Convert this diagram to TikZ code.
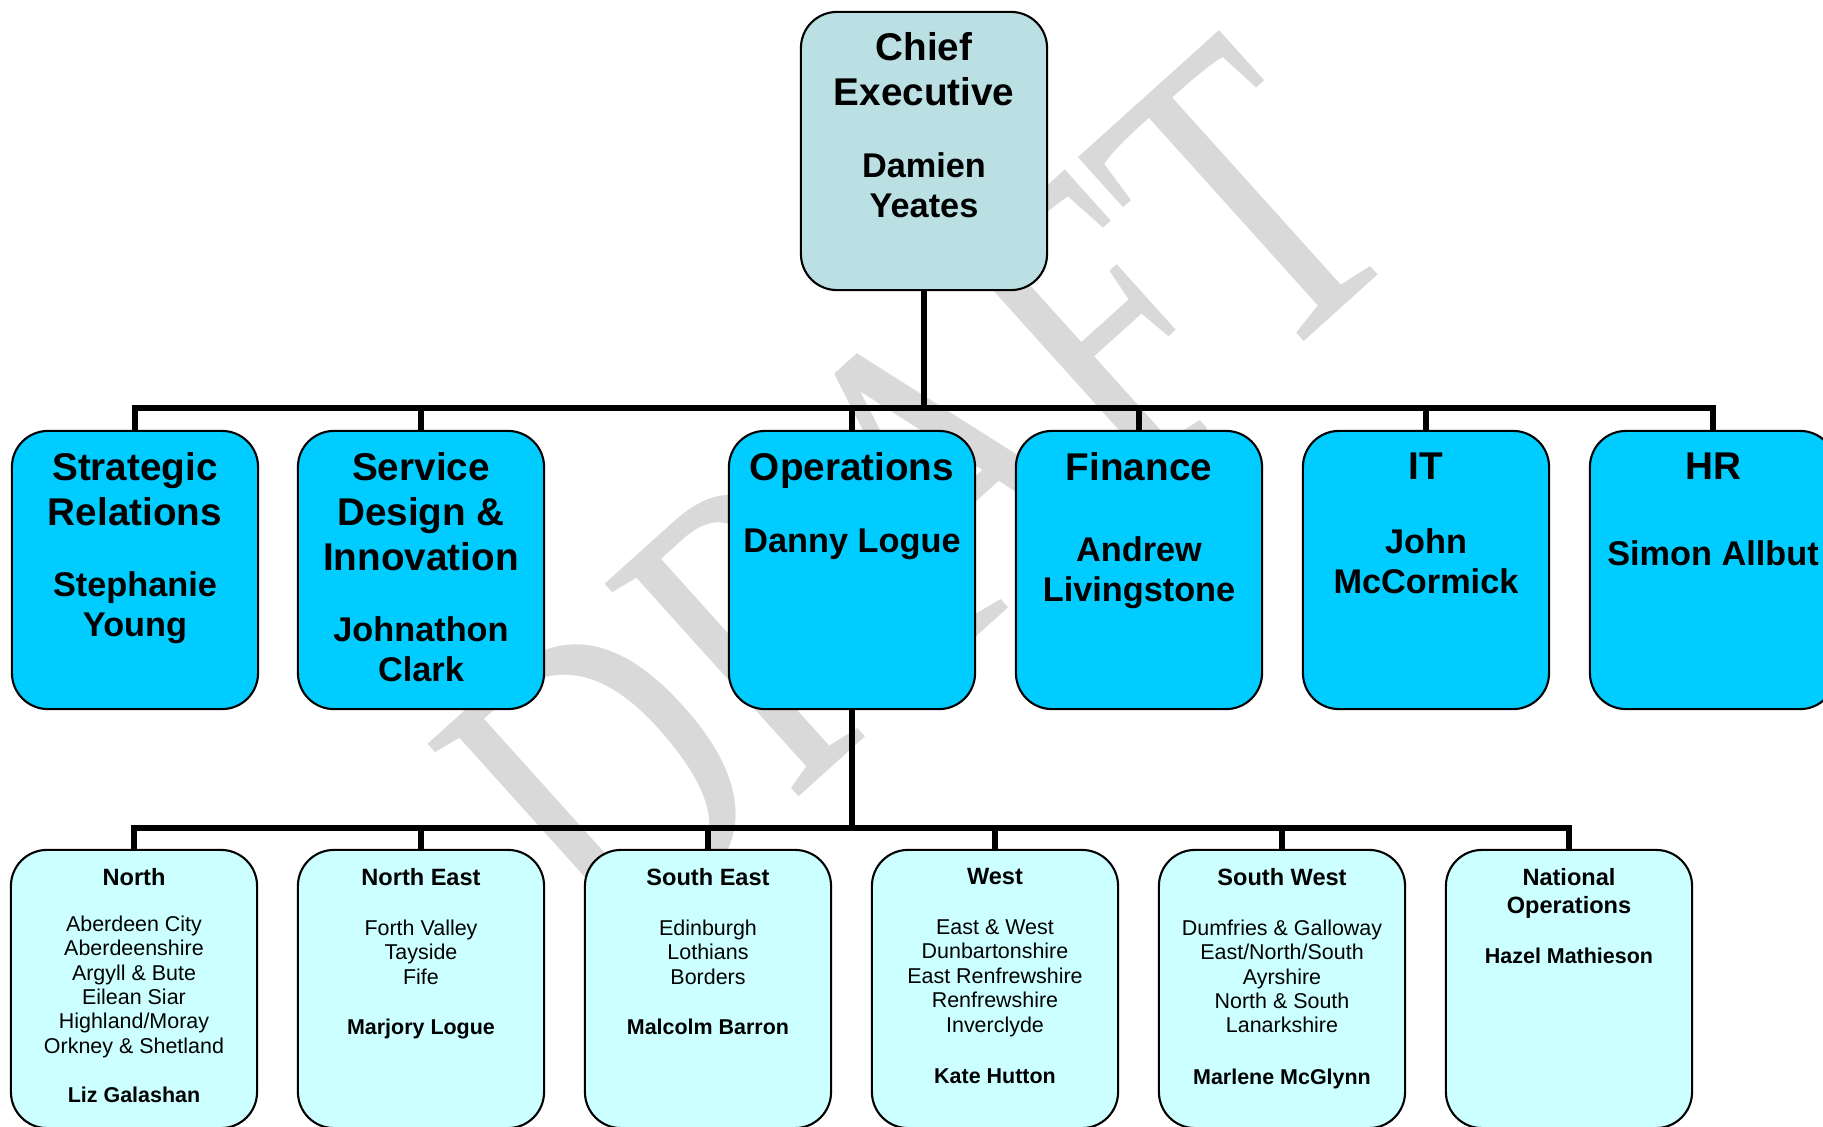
\documentclass[tikz,border=0pt]{standalone}
\usepackage{fontspec}
\setmainfont{Liberation Sans}
\newfontfamily\draftfont{Liberation Serif}

\definecolor{ceoblue}{RGB}{187,224,227}
\definecolor{deptblue}{RGB}{0,204,255}
\definecolor{regionblue}{RGB}{204,255,255}

\begin{document}
\begin{tikzpicture}[x=0.01cm, y=-0.01cm,
    box/.style={draw, line width=0.6pt, rounded corners=0.36cm, minimum width=2.46cm, minimum height=2.78cm, inner sep=0pt},
    boss/.style={box, fill=ceoblue},
    dept/.style={box, fill=deptblue},
    region/.style={box, fill=regionblue},
    boxtitle/.style={anchor=north, inner sep=0pt, align=center, font=\fontsize{11}{12.8}\selectfont\bfseries},
    boxname/.style={anchor=north, inner sep=0pt, align=center, font=\fontsize{9.75}{11.4}\selectfont\bfseries},
    regtitle/.style={anchor=north, inner sep=0pt, align=center, font=\fontsize{6.7}{8}\selectfont\bfseries},
    reglist/.style={anchor=north, inner sep=0pt, align=center, font=\fontsize{6.1}{6.94}\selectfont},
    regname/.style={anchor=north, inner sep=0pt, align=center, font=\fontsize{6.1}{6.94}\selectfont\bfseries},
    link/.style={line width=1.5pt},
    draftmark/.style={rotate=42, inner sep=0pt, text=black!15, font=\draftfont\fontsize{125}{125}\selectfont}]
    \useasboundingbox (0,0) rectangle (1823,1127);

    % Watermark
    \node[draftmark] (draft) at (918,495) {\scalebox{0.75}[1]{DRAFT}};

    % Bars
    \coordinate (bar1) at (924,408);
    \coordinate (bar2) at (852,828);

    % Boxes
    \node[boss] (ceo) at (924,151) {};

    \node[dept] (strat) at (135,570) {};
    \node[dept] (serv) at (421,570) {};
    \node[dept] (ops) at (852,570) {};
    \node[dept] (fin) at (1139,570) {};
    \node[dept] (it) at (1426,570) {};
    \node[dept] (hr) at (1713,570) {};

    \node[region] (north) at (134,989) {};
    \node[region] (neast) at (421,989) {};
    \node[region] (seast) at (708,989) {};
    \node[region] (west) at (995,989) {};
    \node[region] (swest) at (1282,989) {};
    \node[region] (natops) at (1569,989) {};

    % Chief executive to departments
    \draw[link] (ceo.south) -- (bar1);
    \draw[link] (strat.north) |- (bar1) -| (hr.north);
    \draw[link] (serv.north) -- (serv.north |- bar1);
    \draw[link] (ops.north) -- (ops.north |- bar1);
    \draw[link] (fin.north) -- (fin.north |- bar1);
    \draw[link] (it.north) -- (it.north |- bar1);

    % Operations to regions
    \draw[link] (ops.south) -- (bar2);
    \draw[link] (north.north) |- (bar2) -| (natops.north);
    \draw[link] (neast.north) -- (neast.north |- bar2);
    \draw[link] (seast.north) -- (seast.north |- bar2);
    \draw[link] (west.north) -- (west.north |- bar2);
    \draw[link] (swest.north) -- (swest.north |- bar2);

    % Chief executive text
    \node[boxtitle] (ceo-t) at (924,32) {Chief\\Executive};
    \node[boxname] (ceo-n) at (924,152) {Damien\\Yeates};

    % Department text
    \node[boxtitle] (strat-t) at (135,452) {Strategic\\Relations};
    \node[boxname] (strat-n) at (135,571) {Stephanie\\Young};
    \node[boxtitle] (serv-t) at (421,452) {Service\\Design \&\\Innovation};
    \node[boxname] (serv-n) at (421,616) {Johnathon\\Clark};
    \node[boxtitle] (ops-t) at (852,452) {Operations};
    \node[boxname] (ops-n) at (852,528) {Danny Logue};
    \node[boxtitle] (fin-t) at (1139,452) {Finance};
    \node[boxname] (fin-n) at (1139,536) {Andrew\\Livingstone};
    \node[boxtitle] (it-t) at (1426,452) {IT};
    \node[boxname] (it-n) at (1426,528) {John\\McCormick};
    \node[boxtitle] (hr-t) at (1713,452) {HR};
    \node[boxname] (hr-n) at (1713,540) {Simon Allbut};

    % Region text
    \node[regtitle] (north-t) at (134,868) {North};
    \node[reglist] (north-l) at (134,915) {Aberdeen City\\Aberdeenshire\\Argyll \& Bute\\Eilean Siar\\Highland/Moray\\Orkney \& Shetland};
    \node[regname] (north-n) at (134,1086) {Liz Galashan};

    \node[regtitle] (neast-t) at (421,868) {North East};
    \node[reglist] (neast-l) at (421,919) {Forth Valley\\Tayside\\Fife};
    \node[regname] (neast-n) at (421,1018) {Marjory Logue};

    \node[regtitle] (seast-t) at (708,868) {South East};
    \node[reglist] (seast-l) at (708,919) {Edinburgh\\Lothians\\Borders};
    \node[regname] (seast-n) at (708,1018) {Malcolm Barron};

    \node[regtitle] (west-t) at (995,868) {West};
    \node[reglist] (west-l) at (995,919) {East \& West\\Dunbartonshire\\East Renfrewshire\\Renfrewshire\\Inverclyde};
    \node[regname] (west-n) at (995,1068) {Kate Hutton};

    \node[regtitle] (swest-t) at (1282,868) {South West};
    \node[reglist] (swest-l) at (1282,919) {Dumfries \& Galloway\\East/North/South\\Ayrshire\\North \& South\\Lanarkshire};
    \node[regname] (swest-n) at (1282,1068) {Marlene McGlynn};

    \node[regtitle] (natops-t) at (1569,868) {National\\Operations};
    \node[regname] (natops-n) at (1569,947) {Hazel Mathieson};
\end{tikzpicture}
\end{document}
